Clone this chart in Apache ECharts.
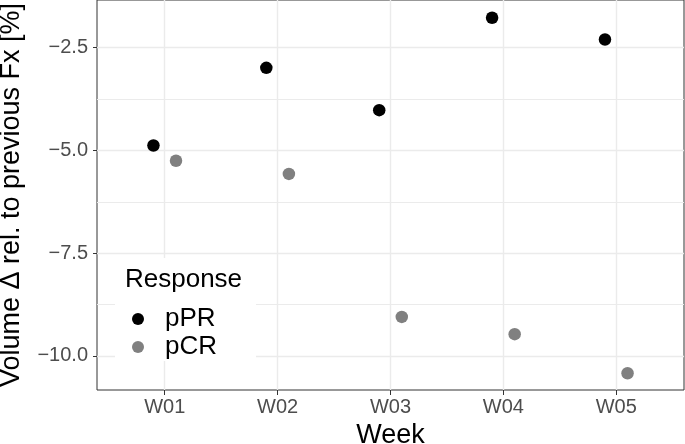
<!DOCTYPE html>
<html>
<head>
<meta charset="utf-8">
<title>Volume change per week</title>
<script src="https://cdn.jsdelivr.net/npm/echarts@6/dist/echarts.min.js"></script>
<style>
    html, body { margin: 0; padding: 0; background: #fff; }
    #main { width: 685px; height: 444px; }
</style>
</head>
<body>
<div id="main"></div>
<script>
    // data
    var weeks = ['W01', 'W02', 'W03', 'W04', 'W05'];
    var pPR = [-4.88, -2.99, -4.02, -1.77, -2.30];
    var pCR = [-5.25, -5.57, -9.05, -9.47, -10.42];
    var yTicks = [-10, -7.5, -5, -2.5];
    var yMinorTicks = [-8.75, -6.25, -3.75];
    var xTicks = [1, 2, 3, 4, 5];

    var dodge = 0.1;
    var font = 'Liberation Sans, Arial, Helvetica, sans-serif';

    function toPoints(values, offset) {
        return values.map(function (v, i) {
            return [i + 1 + offset, v];
        });
    }

    function minus(v) {
        return v.toFixed(1).replace('-', '\u2212');
    }

    var myChart = echarts.init(document.getElementById('main'), null, { renderer: 'canvas' });
    var option = {
        backgroundColor: '#fff',
        animation: false,
        textStyle: { fontFamily: font },
        title: {
            text: 'Response',
            left: 125,
            top: 267,
            padding: 0,
            textStyle: { fontFamily: font, fontSize: 26, fontWeight: 'normal', color: '#000' }
        },
        legend: {
            orient: 'vertical',
            left: 115,
            top: 258,
            padding: [48, 39, 1, 17],
            backgroundColor: '#fff',
            icon: 'circle',
            itemWidth: 12,
            itemHeight: 12,
            itemGap: 2,
            textStyle: { fontFamily: font, fontSize: 26, lineHeight: 26, color: '#000', padding: [0, 0, 0, 16] },
            data: ['pPR', 'pCR']
        },
        grid: {
            left: 97,
            right: 1,
            top: 0,
            bottom: 54,
            outerBoundsMode: 'none',
            containLabel: false,
            show: true,
            borderColor: '#333',
            borderWidth: 1,
            backgroundColor: 'transparent'
        },
        xAxis: {
            type: 'value',
            min: 0.4,
            max: 5.6,
            name: 'Week',
            nameLocation: 'middle',
            nameGap: 28,
            nameTextStyle: { fontFamily: font, fontSize: 27, color: '#000' },
            axisLine: { show: false },
            axisTick: {
                show: true,
                length: 5,
                customValues: xTicks,
                lineStyle: { color: '#333', width: 1 }
            },
            axisLabel: {
                customValues: xTicks,
                margin: 7,
                fontSize: 20,
                color: '#4D4D4D',
                formatter: function (v) {
                    return weeks[Math.round(v) - 1];
                }
            },
            splitLine: { show: true, lineStyle: { color: '#EBEBEB', width: 1.4 } }
        },
        yAxis: [{
            type: 'value',
            min: -10.828,
            max: -1.339,
            name: 'Volume \u0394 rel. to previous Fx [%]',
            nameLocation: 'middle',
            nameGap: 72,
            nameRotate: 90,
            nameTextStyle: { fontFamily: font, fontSize: 27, color: '#000' },
            axisLine: { show: false },
            axisTick: {
                show: true,
                length: 4,
                customValues: yTicks,
                lineStyle: { color: '#333', width: 1 }
            },
            axisLabel: {
                customValues: yTicks,
                margin: 9,
                fontSize: 20,
                color: '#4D4D4D',
                formatter: minus
            },
            splitLine: { show: true, lineStyle: { color: '#EBEBEB', width: 1.4 } }
        }, {
            // minor grid lines only
            type: 'value',
            min: -10.828,
            max: -1.339,
            position: 'left',
            axisLine: { show: false },
            axisTick: { show: false, customValues: yMinorTicks },
            axisLabel: { show: false, customValues: yMinorTicks },
            splitLine: { show: true, lineStyle: { color: '#EBEBEB', width: 1 } }
        }],
        series: [
            {
                name: 'pPR',
                type: 'scatter',
                symbolSize: 12.5,
                itemStyle: { color: '#000', opacity: 1 },
                data: toPoints(pPR, -dodge)
            },
            {
                name: 'pCR',
                type: 'scatter',
                symbolSize: 12.5,
                itemStyle: { color: '#808080', opacity: 1 },
                data: toPoints(pCR, dodge)
            }
        ]
    };
    myChart.setOption(option, true);
    window.addEventListener('resize', function () {
        myChart.resize();
    });
</script>
</body>
</html>
